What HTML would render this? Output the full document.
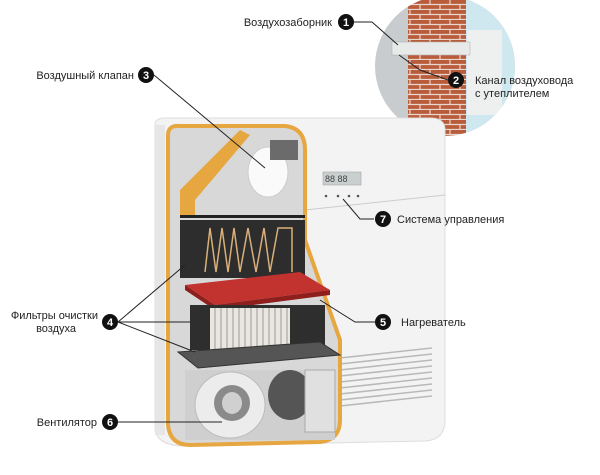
<!DOCTYPE html>
<html><head><meta charset="utf-8"><style>
html,body{margin:0;padding:0;background:#fff;}
svg{display:block}
text{font-family:"Liberation Sans",sans-serif;font-size:11px;fill:#222}
.b{fill:#111}
.n{fill:#fff;font-weight:bold;font-size:11px;text-anchor:middle}
.e{text-anchor:end}
</style></head><body>
<svg width="600" height="475" viewBox="0 0 600 475">
<rect width="600" height="475" fill="#fff"/>
<defs><clipPath id="c"><circle cx="445" cy="66" r="70"/></clipPath>
<pattern id="br" width="20" height="10" patternUnits="userSpaceOnUse">
<rect width="20" height="10" fill="#b95c3c"/><path d="M0 9.5H20M10 0V4.5M0 5V9.5M20 5V9.5M0 4.5H20" stroke="#e9d6cc" stroke-width="1.2"/></pattern></defs>
<g clip-path="url(#c)">
<rect x="370" y="-10" width="150" height="160" fill="#c9ccce"/>
<rect x="465" y="-10" width="60" height="160" fill="#cfe7ee"/>
<rect x="408" y="0" width="58" height="140" fill="url(#br)"/>
<rect x="467" y="30" width="35" height="85" fill="#eef0f0"/>
<path d="M392 42 L470 42 L470 55 L392 55 Z" fill="#e8eaea" stroke="#aaa" stroke-width=".5"/>
</g>
<path d="M155 125 Q155 118 165 118 L430 118 Q445 118 445 130 L445 420 Q445 440 425 441 L185 446 Q158 446 155 430 Z" fill="#f3f3f3" stroke="#ddd"/>
<rect x="155" y="125" width="10" height="310" fill="#e6e6e6"/>
<g stroke="#b9b9b9" stroke-width="1.5">
<path d="M340 358 L432 348M340 364 L432 354M340 370 L432 360M340 376 L432 366M340 382 L432 372M340 388 L432 378M340 394 L432 384M340 400 L432 390M340 406 L432 396"/></g>
<rect x="323" y="172" width="38" height="13" fill="#c9cfcf" stroke="#999" stroke-width=".5"/>
<text x="325" y="182" style="font-size:9px;fill:#444">88 88</text>
<circle cx="326" cy="196" r="1.3" fill="#555"/><circle cx="338" cy="196" r="1.3" fill="#555"/><circle cx="349" cy="196" r="1.3" fill="#555"/><circle cx="358" cy="196" r="1.3" fill="#555"/>
<path d="M305 210 L445 195" stroke="#ccc"/>
<path d="M168 135 Q168 125 180 126 L285 126 Q305 128 305 150 L305 240 L340 340 L340 420 Q340 440 320 442 L190 445 Q170 445 168 425 Z" fill="#d8d8d8" stroke="#e6a640" stroke-width="4"/>
<path d="M180 215 L180 190 L240 130 L250 135 L195 200 L195 215 Z" fill="#e6a640"/>
<ellipse cx="268" cy="172" rx="20" ry="25" fill="#fafafa" stroke="#ccc"/>
<rect x="270" y="140" width="28" height="20" fill="#6b6b6b"/>
<rect x="180" y="215" width="125" height="3" fill="#222"/>
<rect x="180" y="220" width="125" height="58" fill="#2d2d2d"/>
<path d="M205 272 L210 228 L216 272 L222 228 L228 272 L234 228 L240 272 L248 228 L256 272 L264 228 L270 272 L278 228 L292 228 L292 272" fill="none" stroke="#d9b07a" stroke-width="1.5"/>
<path d="M185 285 L300 272 L330 290 L215 305 Z" fill="#c2332f"/>
<path d="M185 290 L215 310 L330 295 L330 290 L215 305 L185 285Z" fill="#8e1f1c"/>
<rect x="190" y="305" width="135" height="45" fill="#2e2e2e"/>
<rect x="210" y="308" width="80" height="42" fill="#e9e6e0"/>
<g stroke="#999" stroke-width="1"><path d="M215 308V350M221 308V350M227 308V350M233 308V350M239 308V350M245 308V350M251 308V350M257 308V350M263 308V350M269 308V350M275 308V350M281 308V350M287 308V350"/></g>
<path d="M178 352 L320 342 L340 355 L198 368 Z" fill="#555" stroke="#333"/>
<rect x="185" y="370" width="150" height="70" fill="#cfcfcf"/>
<ellipse cx="230" cy="405" rx="35" ry="33" fill="#ececec" stroke="#bbb"/>
<ellipse cx="232" cy="403" rx="18" ry="18" fill="#8a8a8a"/>
<ellipse cx="232" cy="403" rx="10" ry="11" fill="#d0d0d0"/>
<ellipse cx="290" cy="395" rx="22" ry="25" fill="#555"/>
<rect x="305" y="370" width="30" height="62" fill="#e0e0e0" stroke="#aaa"/>
<g stroke="#222" stroke-width="1" fill="none">
<path d="M354 22 L372 22 L398 45"/>
<path d="M448 80 L420 70 L399 55"/>
<path d="M154 75 L265 168"/>
<path d="M374 219 L360 219 L343 199"/>
<path d="M118 322 L185 265M118 322 L190 322M118 322 L195 352"/>
<path d="M375 322 L355 322 L320 300"/>
<path d="M118 422 L222 422"/>
</g>
<circle class="b" cx="346" cy="22" r="8"/><text class="n" x="346" y="26">1</text>
<circle class="b" cx="456" cy="80" r="8"/><text class="n" x="456" y="84">2</text>
<circle class="b" cx="146" cy="75" r="8"/><text class="n" x="146" y="79">3</text>
<circle class="b" cx="110" cy="322" r="8"/><text class="n" x="110" y="326">4</text>
<circle class="b" cx="383" cy="322" r="8"/><text class="n" x="383" y="326">5</text>
<circle class="b" cx="110" cy="422" r="8"/><text class="n" x="110" y="426">6</text>
<circle class="b" cx="383" cy="219" r="8"/><text class="n" x="383" y="223">7</text>
<text class="e" x="332" y="26">Воздухозаборник</text>
<text x="475" y="84">Канал воздуховода</text>
<text x="475" y="97">с утеплителем</text>
<text class="e" x="134" y="79">Воздушный клапан</text>
<text x="397" y="223">Система управления</text>
<text class="e" x="98" y="319">Фильтры очистки</text>
<text class="e" x="76" y="332">воздуха</text>
<text x="401" y="326">Нагреватель</text>
<text class="e" x="97" y="426">Вентилятор</text>
</svg>
</body></html>
